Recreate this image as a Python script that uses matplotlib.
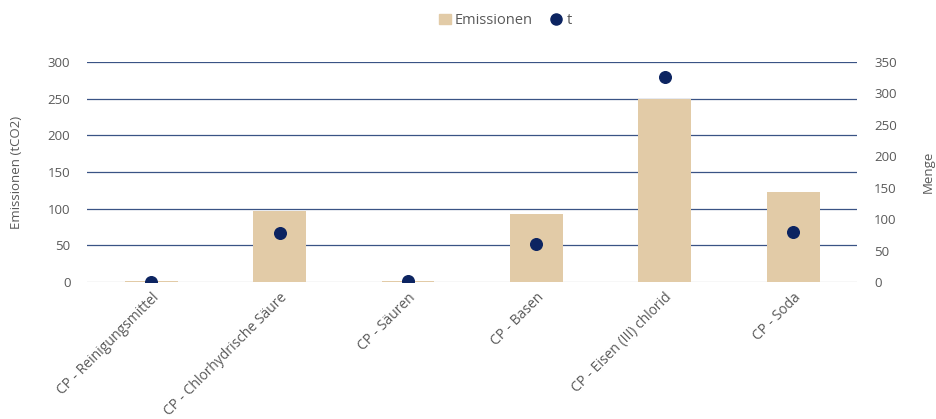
import matplotlib.pyplot as plt
from matplotlib.lines import Line2D
from matplotlib.patches import Patch

plt.rcParams['font.family'] = ['Open Sans', 'DejaVu Sans']

categories = ['CP - Reinigungsmittel', 'CP - Chlorhydrische Säure', 'CP - Säuren',
              'CP - Basen', 'CP - Eisen (III) chlorid', 'CP - Soda']
emissionen = [1, 97, 1.5, 93, 250, 123]
menge = [0, 78, 2, 60, 326, 79]

bar_color = '#E2CBA7'
dot_color = '#0C2461'
text_color = '#595959'

fig, ax = plt.subplots(figsize=(9.36, 4.19), dpi=100)
fig.subplots_adjust(left=0.093, right=0.916, top=0.852, bottom=0.327)
ax2 = ax.twinx()

x = range(len(categories))
ax.bar(x, emissionen, width=0.41, color=bar_color, zorder=2)
ax2.scatter(x, menge, s=70, color=dot_color, zorder=3)

ax.set_ylim(0, 300)
ax.set_yticks(range(0, 301, 50))
ax2.set_ylim(0, 350)
ax2.set_yticks(range(0, 351, 50))
ax.set_xlim(-0.5, len(categories) - 0.5)

for v in range(50, 301, 50):
    ax.axhline(v, color='#3A5385', lw=0.9, zorder=1)
ax.axhline(0, color='#D9D9D9', lw=1, zorder=1)

ax.set_xticks(list(x))
ax.set_xticklabels(categories, rotation=45, ha='right', rotation_mode='anchor',
                   fontsize=10, color=text_color)
for a in (ax, ax2):
    a.tick_params(length=0, labelsize=9.5, labelcolor=text_color)
    for s in a.spines.values():
        s.set_visible(False)
ax.tick_params(axis='y', pad=12)
ax2.tick_params(axis='y', pad=12)
ax.tick_params(axis='x', pad=6, labelsize=10)

ax.set_ylabel('Emissionen (tCO2)', fontsize=9.5, color=text_color, labelpad=18)
ax2.set_ylabel('Menge', fontsize=9.5, color=text_color, labelpad=18)

handles = [Patch(color=bar_color, label='Emissionen'),
           Line2D([], [], marker='o', ls='', color=dot_color, markersize=8, label='t')]
fig.legend(handles=handles, loc='upper center', bbox_to_anchor=(0.54, 1.0), ncol=2,
           frameon=False, fontsize=10.5, handlelength=0.8, handletextpad=0.3,
           columnspacing=1.2, labelcolor=text_color)

fig.savefig('out.png')
